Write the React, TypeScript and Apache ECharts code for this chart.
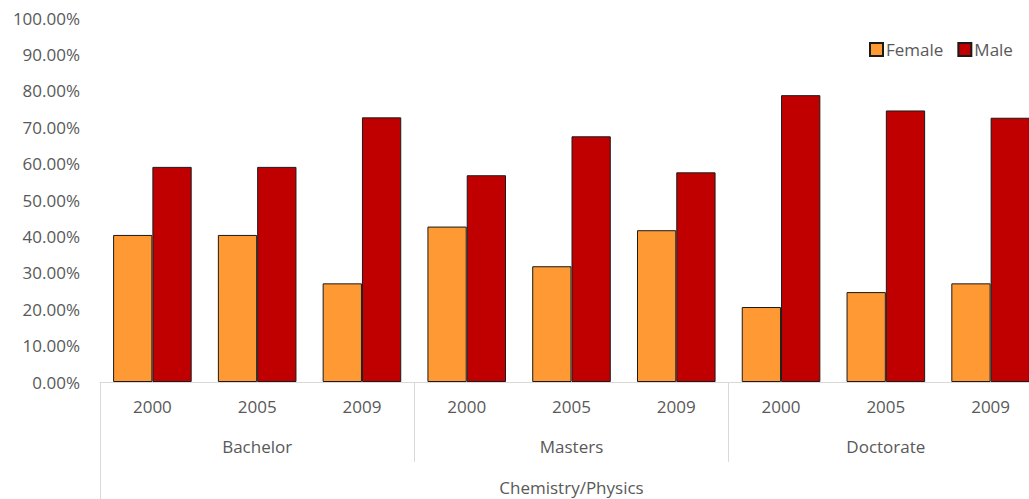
import React, { useEffect, useRef } from "react";
import * as echarts from "echarts";

const years = ["2000", "2005", "2009", "2000", "2005", "2009", "2000", "2005", "2009"];
const degrees = ["Bachelor", "Masters", "Doctorate"];
const field = ["Chemistry/Physics"];
const female = [40.4, 40.4, 27.1, 42.7, 31.8, 41.7, 20.6, 24.7, 27.1];
const male = [59.1, 59.1, 72.7, 56.8, 67.5, 57.6, 78.8, 74.6, 72.6];
const yTicks = [0, 10, 20, 30, 40, 50, 60, 70, 80, 90, 100];

const FONT = "'Open Sans', 'Liberation Sans', sans-serif";
const GREY = "#595959";
const LINE = "#d9d9d9";
const FS = 17;

export default function App() {
  const ref = useRef<HTMLDivElement>(null);
  useEffect(() => {
    document.body.style.margin = "0";
    const chart = echarts.init(ref.current!, undefined, { renderer: "svg" });
    chart.setOption({
      animation: false,
      textStyle: { fontFamily: FONT },
      grid: { left: 100, top: 18, width: 943, height: 364, containLabel: false, outerBoundsMode: "none" },
      legend: {
        left: 864,
        top: 36,
        itemWidth: 13,
        itemHeight: 13,
        itemGap: 14,
        icon: "rect",
        textStyle: { fontSize: FS, color: GREY, fontFamily: FONT, padding: [0, 0, 0, -2] },
        data: ["Female", "Male"],
      },
      xAxis: [
        {
          type: "category",
          data: years,
          position: "bottom",
          axisLine: { show: true, lineStyle: { color: LINE, width: 1 } },
          axisTick: { show: false },
          axisLabel: { fontSize: FS, color: GREY, margin: 16, fontFamily: FONT, interval: 0 },
        },
        {
          type: "category",
          data: degrees,
          position: "bottom",
          axisLine: { show: false },
          axisTick: { show: true, length: 80, lineStyle: { color: LINE, width: 1 }, interval: 0 },
          axisLabel: { fontSize: FS, color: GREY, margin: 56, fontFamily: FONT, interval: 0 },
        },
        {
          type: "category",
          data: field,
          position: "bottom",
          axisLine: { show: false },
          axisTick: { show: true, length: 117, lineStyle: { color: LINE, width: 1 } },
          axisLabel: { fontSize: FS, color: GREY, margin: 97, fontFamily: FONT },
        },
      ],
      yAxis: {
        type: "value",
        min: 0,
        max: 100,
        interval: 10,
        axisLine: { show: false },
        axisTick: { show: false },
        splitLine: { show: false },
        axisLabel: {
          fontSize: FS,
          color: GREY,
          margin: 20,
          fontFamily: FONT,
          formatter: (v: number) => (yTicks.includes(v) ? v.toFixed(2) + "%" : ""),
        },
      },
      series: [
        {
          name: "Female",
          type: "bar",
          data: female,
          barGap: "0%",
          barCategoryGap: "25%",
          itemStyle: { color: "#FF9933", borderColor: "#1a1a1a", borderWidth: 1 },
        },
        {
          name: "Male",
          type: "bar",
          data: male,
          barGap: "0%",
          barCategoryGap: "25%",
          itemStyle: { color: "#C00000", borderColor: "#1a1a1a", borderWidth: 1 },
        },
      ],
    });
    return () => chart.dispose();
  }, []);
  return <div ref={ref} style={{ width: 1029, height: 499, position: "absolute", left: 0, top: 0 }} />;
}
